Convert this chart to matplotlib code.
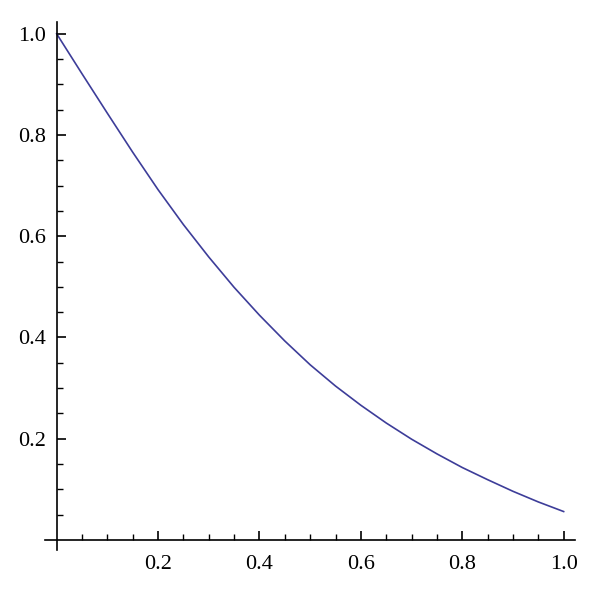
import matplotlib
matplotlib.use("Agg")
import matplotlib.pyplot as plt
import numpy as np

# Data
x_vals = [0.0, 0.05, 0.1, 0.15, 0.2, 0.25, 0.3, 0.35, 0.4, 0.45, 0.5,
          0.55, 0.6, 0.65, 0.7, 0.75, 0.8, 0.85, 0.9, 0.95, 1.0]
y_vals = [1.0, 0.921, 0.843, 0.766, 0.692, 0.623, 0.559, 0.499, 0.444, 0.393, 0.346,
          0.304, 0.266, 0.231, 0.199, 0.170, 0.143, 0.119, 0.096, 0.075, 0.056]

major_ticks = [0.2, 0.4, 0.6, 0.8, 1.0]
major_labels = ["0.2", "0.4", "0.6", "0.8", "1.0"]
minor_ticks = [0.05, 0.1, 0.15, 0.25, 0.3, 0.35, 0.45, 0.5, 0.55,
               0.65, 0.7, 0.75, 0.85, 0.9, 0.95]

plt.rcParams['font.family'] = ['Liberation Serif', 'DejaVu Serif']

fig = plt.figure(figsize=(6.0, 5.93), dpi=100)
ax = fig.add_axes([0.075, 0.0725, 0.883, 0.891])

ax.plot(x_vals, y_vals, color='#3d3d99', lw=1.2)

ax.set_xlim(-0.023, 1.022)
ax.set_ylim(-0.020, 1.024)

for s in ['top', 'right']:
    ax.spines[s].set_visible(False)
ax.spines['left'].set_position(('data', 0))
ax.spines['bottom'].set_position(('data', 0))
for s in ['left', 'bottom']:
    ax.spines[s].set_linewidth(1.2)
    ax.spines[s].set_color('black')

ax.set_xticks(major_ticks)
ax.set_xticklabels(major_labels, fontsize=16, family=['Liberation Serif', 'DejaVu Serif'])
ax.set_yticks(major_ticks)
ax.set_yticklabels(major_labels, fontsize=16, family=['Liberation Serif', 'DejaVu Serif'])
ax.set_xticks(minor_ticks, minor=True)
ax.set_yticks(minor_ticks, minor=True)

ax.tick_params(axis='x', which='major', direction='in', length=6.5, width=1.2, pad=11)
ax.tick_params(axis='y', which='major', direction='in', length=6.5, width=1.2, pad=8)
ax.tick_params(axis='both', which='minor', direction='in', length=4, width=1.0)

fig.savefig('out.png', dpi=100, facecolor='white')
